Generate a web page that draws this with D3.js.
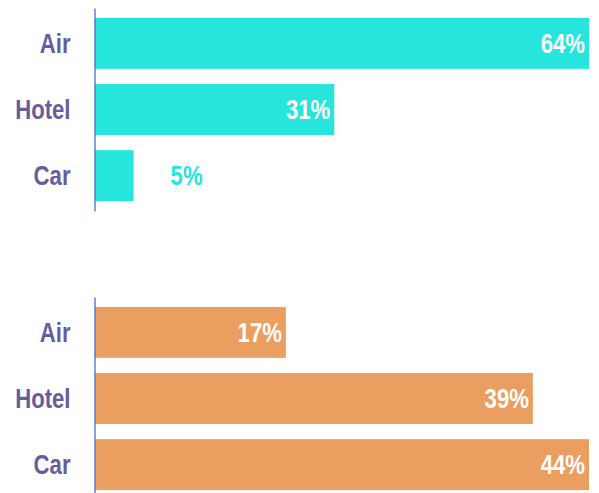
<!DOCTYPE html>
<html>
<head>
<meta charset="utf-8">
<script src="https://cdn.jsdelivr.net/npm/d3@7"></script>
<style>
	body { margin: 0; background: #fff; }
	.cat-axis text { font-family: "Liberation Sans", Arial, sans-serif; font-weight: bold; font-size: 27px; fill: #665d9f; }
	.cat-axis path { stroke: #4472c4; stroke-width: 1.3px; }
	.value-label { font-family: "Liberation Sans", Arial, sans-serif; font-weight: bold; font-size: 27px; }
</style>
</head>
<body>
<svg id="chart" width="599" height="493"></svg>
<script>

const categories = ["Air", "Hotel", "Car"];
const topValues = [64, 31, 5];
const bottomValues = [17, 39, 44];

const topColor = "#25e5dc";
const bottomColor = "#ea9e5f";

// narrow look, like Arial Narrow (not installed)
const narrow = 0.82;

const svg = d3.select("#chart");

function drawPanel(values, color, yTop, yBottom) {
	const x = d3.scaleLinear()
		.domain([0, d3.max(values)])
		.range([95, 589]);

	const y = d3.scaleBand()
		.domain(categories)
		.range([yTop, yBottom])
		.paddingInner(0.23)
		.paddingOuter(0.15);

	const g = svg.append("g");

	const rows = categories.map((c, i) => ({cat: c, value: values[i]}));

	g.selectAll("rect")
		.data(rows)
		.enter()
		.append("rect")
			.attr("x", x(0))
			.attr("y", d => y(d.cat))
			.attr("width", d => x(d.value) - x(0))
			.attr("height", y.bandwidth())
			.style("fill", color);

	// labels: inside end if room, else after the bar in bar colour
	g.selectAll("text.value-label")
		.data(rows)
		.enter()
		.append("text")
			.attr("class", "value-label")
			.text(d => d.value + "%")
			.attr("dy", "0.35em")
			.each(function(d) {
				const w = x(d.value) - x(0);
				const sel = d3.select(this);
				const cy = y(d.cat) + y.bandwidth() / 2;
				if (w > 60) {
					sel.attr("transform", "translate(" + (x(d.value) - 4) + "," + cy + ") scale(" + narrow + ",1)")
						.attr("text-anchor", "end").style("fill", "#fff");
				} else {
					sel.attr("transform", "translate(" + (x(d.value) + 37) + "," + cy + ") scale(" + narrow + ",1)")
						.attr("text-anchor", "start").style("fill", color);
				}
			});

	const axis = d3.axisLeft(y)
		.tickSize(0)
		.tickSizeOuter(0)
		.tickPadding(24);

	svg.append("g")
		.attr("class", "cat-axis")
		.attr("transform", "translate(94.5,0)")
		.call(axis)
		.call(a => a.selectAll("text")
			.attr("dy", "0.35em")
			.attr("x", -24 / narrow)
			.attr("transform", "scale(" + narrow + ",1)"));
}

drawPanel(topValues, topColor, 8, 211);
drawPanel(bottomValues, bottomColor, 297, 500);

</script>
</body>
</html>
